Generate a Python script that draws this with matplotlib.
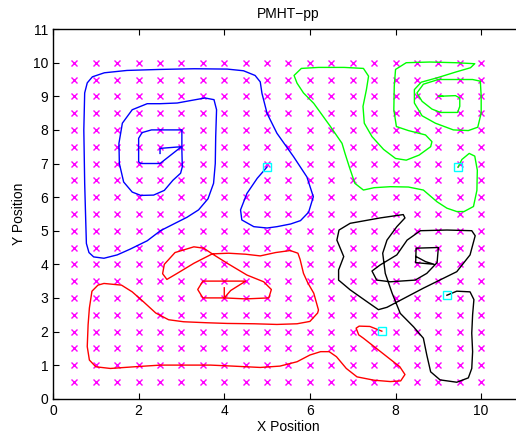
import numpy as np
import matplotlib
matplotlib.use('Agg')
import matplotlib.pyplot as plt

plt.rcParams['font.family'] = ['Liberation Sans', 'DejaVu Sans']

# grid of candidate positions (magenta crosses)
grid_vals = [0.5 * k for k in range(1, 21)]

# tracks, each listed from its start point (cyan square) onward
blue_x = [5.0, 4.92, 4.77, 4.53, 4.38, 4.41, 4.69, 5.0, 5.23, 5.55, 5.78, 5.97, 6.08, 5.93, 5.62, 5.23,
          5.0, 4.88, 4.84, 4.72, 4.45, 4.07, 3.3, 2.5, 1.73, 1.2, 0.92, 0.8, 0.74, 0.72, 0.74, 0.76,
          0.78, 0.84, 0.95, 1.19, 1.5, 1.8, 2.2, 2.51, 2.85, 3.13, 3.4, 3.62, 3.75, 3.79, 3.8, 3.82,
          3.76, 3.55, 3.2, 2.9, 2.5, 2.2, 1.85, 1.62, 1.54, 1.55, 1.65, 1.85, 2.05, 2.35, 2.6, 2.8,
          2.98, 3.02, 3.01, 3.01, 2.3, 2.08, 2.0, 2.0, 2.05, 2.5, 2.75, 3.0, 2.5, 2.5]
blue_y = [6.9, 6.78, 6.56, 6.11, 5.62, 5.32, 5.12, 5.08, 5.12, 5.2, 5.3, 5.55, 6.01, 6.6, 7.2, 7.9,
          8.49, 9.09, 9.43, 9.62, 9.76, 9.81, 9.82, 9.8, 9.77, 9.7, 9.58, 9.4, 9.1, 8.0, 6.41, 5.5,
          4.62, 4.35, 4.22, 4.18, 4.28, 4.45, 4.7, 5.0, 5.22, 5.4, 5.62, 5.95, 6.41, 7.0, 7.8, 8.6,
          8.9, 8.95, 8.87, 8.8, 8.78, 8.78, 8.6, 8.2, 7.6, 7.0, 6.45, 6.15, 6.05, 6.06, 6.2, 6.5,
          6.71, 6.9, 7.4, 8.0, 8.0, 7.92, 7.75, 7.05, 7.0, 7.0, 7.25, 7.5, 7.45, 7.3]

green_x = [9.46, 9.55, 9.72, 9.85, 9.91, 9.9, 9.82, 9.6, 9.43, 9.2, 8.97, 8.65, 8.3, 7.88, 7.5, 7.25,
           7.05, 6.92, 6.82, 6.75, 6.48, 6.09, 5.85, 5.7, 5.63, 5.8, 6.2, 6.8, 7.25, 7.37, 7.32, 7.24,
           7.27, 7.45, 7.72, 8.0, 8.25, 8.55, 8.82, 8.85, 8.7, 8.3, 8.02, 7.96, 7.97, 8.0, 8.25, 8.8,
           9.4, 9.85, 9.75, 9.4, 8.97, 8.6, 8.44, 8.44, 8.62, 8.93, 9.35, 9.7, 9.92, 10.0, 10.0, 9.98,
           9.8, 9.5, 9.0, 8.65, 8.5, 8.62, 8.85, 9.05, 9.45, 9.5, 9.5, 9.4, 9.0, 9.1]
green_y = [6.89, 7.12, 7.3, 7.22, 6.8, 6.2, 5.72, 5.57, 5.57, 5.67, 5.86, 6.21, 6.3, 6.31, 6.28, 6.21,
           6.41, 6.9, 7.3, 7.6, 8.1, 8.79, 9.1, 9.39, 9.62, 9.83, 9.86, 9.86, 9.83, 9.6, 9.2, 8.7,
           8.2, 7.8, 7.42, 7.15, 7.1, 7.25, 7.5, 7.65, 7.85, 7.98, 8.1, 8.6, 9.3, 9.8, 10.0, 10.02,
           10.0, 9.97, 9.85, 9.72, 9.55, 9.42, 9.2, 8.8, 8.42, 8.2, 8.0, 7.98, 8.08, 8.5, 9.0, 9.45,
           9.5, 9.5, 9.5, 9.36, 9.1, 8.85, 8.62, 8.52, 8.52, 8.7, 8.95, 9.02, 9.0, 9.0]

red_x = [7.68, 7.4, 7.15, 7.08, 7.14, 7.25, 7.55, 7.85, 8.1, 8.22, 8.12, 7.88, 7.5, 7.1, 6.85, 6.62,
         6.45, 6.25, 6.0, 5.7, 5.3, 4.84, 4.2, 3.68, 3.0, 2.51, 1.9, 1.34, 1.0, 0.85, 0.8, 0.82,
         0.85, 0.91, 1.05, 1.19, 1.6, 1.85, 2.1, 2.4, 2.7, 3.05, 3.6, 4.07, 4.7, 5.23, 5.7, 6.0,
         6.18, 6.2, 6.09, 5.95, 5.85, 5.77, 5.72, 5.54, 5.2, 4.84, 4.5, 4.1, 3.72, 3.29, 2.9, 2.66,
         2.56, 2.6, 2.85, 3.29, 3.52, 3.72, 4.07, 4.53, 4.92, 5.1, 5.04, 4.5, 4.0, 3.5, 3.38, 3.5,
         4.0, 4.5, 4.15, 4.0, 4.0]
red_y = [2.01, 2.15, 2.16, 2.1, 1.9, 1.8, 1.5, 1.2, 0.95, 0.72, 0.53, 0.51, 0.55, 0.65, 0.9, 1.25,
         1.4, 1.4, 1.3, 1.1, 0.97, 0.93, 0.97, 1.0, 1.0, 1.0, 0.95, 0.9, 0.95, 1.15, 1.55, 2.2,
         2.7, 3.2, 3.38, 3.43, 3.38, 3.18, 2.9, 2.55, 2.35, 2.29, 2.26, 2.24, 2.23, 2.21, 2.23, 2.3,
         2.55, 2.64, 3.14, 3.45, 3.73, 4.15, 4.33, 4.41, 4.35, 4.25, 4.3, 4.33, 4.31, 4.03, 3.73, 3.55,
         3.72, 4.0, 4.35, 4.52, 4.48, 4.31, 4.03, 3.68, 3.48, 3.25, 3.0, 2.97, 3.0, 3.0, 3.25, 3.5,
         3.5, 3.5, 3.22, 3.0, 3.3]

black_x = [9.2, 9.43, 9.74, 9.83, 9.8, 9.78, 9.8, 9.78, 9.7, 9.43, 9.04, 8.82, 8.73, 8.65, 8.42, 8.11,
           7.92, 7.76, 7.7, 7.8, 8.03, 8.22, 8.18, 7.64, 6.94, 6.68, 6.63, 6.79, 6.67, 6.67, 6.94, 7.33,
           7.6, 7.8, 8.65, 9.43, 9.74, 9.86, 9.78, 9.2, 8.58, 8.27, 8.03, 7.64, 7.45, 7.56, 7.88, 8.46,
           8.73, 8.97, 9.0, 8.48, 8.47, 8.9, 8.7, 8.48]
black_y = [3.08, 3.2, 3.18, 2.95, 2.5, 1.95, 1.4, 0.9, 0.62, 0.49, 0.56, 0.8, 1.3, 1.8, 2.14, 2.54,
           3.14, 3.73, 4.33, 4.72, 5.12, 5.38, 5.48, 5.38, 5.22, 5.02, 4.72, 4.23, 3.83, 3.53, 3.24, 2.89,
           2.65, 2.72, 3.29, 3.78, 4.28, 4.85, 5.0, 5.02, 5.0, 4.72, 4.28, 3.98, 3.8, 3.53, 3.48, 3.53,
           3.73, 4.05, 4.5, 4.48, 4.05, 4.0, 4.08, 4.23]

start_x = [blue_x[0], green_x[0], red_x[0], black_x[0]]
start_y = [blue_y[0], green_y[0], red_y[0], black_y[0]]

fig = plt.figure(figsize=(5.16, 4.43), dpi=100)
ax = fig.add_axes([0.1027, 0.1, 0.9128, 0.8343])

gx, gy = np.meshgrid(grid_vals, grid_vals)
ax.plot(gx.ravel(), gy.ravel(), 'x', color='#ff00ff', markersize=5, markeredgewidth=1.0)

ax.plot(blue_x, blue_y, color='#0000ff', linewidth=1.0)
ax.plot(green_x, green_y, color='#00ff00', linewidth=1.0)
ax.plot(red_x, red_y, color='#ff0000', linewidth=1.0)
ax.plot(black_x, black_y, color='#000000', linewidth=1.0)
ax.plot(start_x, start_y, 's', markerfacecolor='none', markeredgecolor='#00ffff',
        markersize=6, markeredgewidth=1.0)

ax.set_xlim(0, 11)
ax.set_ylim(0, 11)
ax.set_xticks(range(0, 11, 2))
ax.set_yticks(range(0, 12))
ax.tick_params(direction='in', length=4, top=True, right=True, labelsize=10)
for s in ax.spines.values():
    s.set_linewidth(1.0)

ax.set_title('PMHT\u2212pp', fontsize=10, pad=8)
ax.set_xlabel('X Position', fontsize=10, labelpad=2)
ax.set_ylabel('Y Position', fontsize=10, labelpad=5)

fig.savefig('out.png', dpi=100)
